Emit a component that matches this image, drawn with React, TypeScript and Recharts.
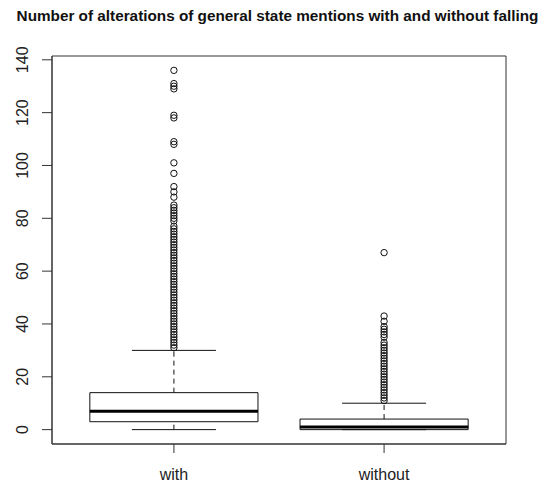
import React from "react";
import {
  ComposedChart,
  XAxis,
  YAxis,
  Scatter,
  ReferenceArea,
  ReferenceLine,
} from "recharts";

// Groups and their positions on the x scale
const groups = ["with", "without"];
const groupPos = [1, 2];

// Five-number summaries per group
const lowerWhisker = [0, 0];
const firstQuartile = [3, 0];
const medians = [7, 1];
const thirdQuartile = [14, 4];
const upperWhisker = [30, 10];

// Points beyond the whiskers
const outliersWith = [
  31, 32, 33, 34, 35, 36, 37, 38, 39, 40, 41, 42, 43, 44, 45, 46, 47, 48, 49, 50,
  51, 52, 53, 54, 55, 56, 57, 58, 59, 60, 61, 62, 63, 64, 65, 66, 67, 68, 69, 70,
  71, 72, 73, 74, 75, 76, 77, 79, 80, 81, 82, 83, 84, 85, 88, 90, 92, 97, 101,
  108, 109, 118, 119, 129, 130, 131, 136,
];
const outliersWithout = [
  11, 12, 13, 14, 15, 16, 17, 18, 19, 20, 21, 22, 23, 24, 25, 26, 27, 28, 29, 30,
  31, 32, 33, 35, 36, 37, 38, 39, 41, 43, 67,
];

const yTicks = [0, 20, 40, 60, 80, 100, 120, 140];

const outlierSets = [outliersWith, outliersWithout];

const WIDTH = 558;
const HEIGHT = 490;
const FONT = "'Liberation Sans', Arial, sans-serif";
const AXIS_COLOR = "#333";
const BOX_COLOR = "#111";

// Axis ranges padded by 4% on each side
const allValues = [...lowerWhisker, ...outliersWith, ...outliersWithout];
const yMin = Math.min(...allValues);
const yMax = Math.max(...allValues);
const yPad = (yMax - yMin) * 0.04;
const yDomain: [number, number] = [yMin - yPad, yMax + yPad];
const xPad = groupPos.length * 0.04;
const xDomain: [number, number] = [0.5 - xPad, groupPos.length + 0.5 + xPad];

const BOX_HALF = 0.4;
const CAP_HALF = 0.2;

const scatterData = outlierSets.map((set, i) =>
  set.map((v) => ({ x: groupPos[i], y: v }))
);

const OpenCircle = (props: any) => {
  const { cx, cy } = props;
  if (cx == null || cy == null) return null;
  return <circle cx={cx} cy={cy} r={3.2} fill="none" stroke={BOX_COLOR} strokeWidth={1} />;
};

const YTick = (props: any) => {
  const { x, y, payload } = props;
  const ax = x - 12;
  return (
    <text
      x={ax}
      y={y}
      transform={`rotate(-90 ${ax} ${y})`}
      textAnchor="middle"
      fontFamily={FONT}
      fontSize={16}
      fill="#222"
    >
      {payload.value}
    </text>
  );
};

const XTick = (props: any) => {
  const { x, y, payload } = props;
  const idx = groupPos.indexOf(payload.value);
  return (
    <text x={x} y={y + 25} textAnchor="middle" fontFamily={FONT} fontSize={16} fill="#222">
      {idx >= 0 ? groups[idx] : ""}
    </text>
  );
};

export default function App() {
  return (
    <div
      style={{
        position: "absolute",
        left: 0,
        top: 0,
        width: WIDTH,
        height: HEIGHT,
        background: "#fff",
      }}
    >
      <div
        style={{
          position: "absolute",
          left: 0,
          width: 555,
          top: 8,
          textAlign: "center",
          fontFamily: FONT,
          fontWeight: "bold",
          fontSize: 15.3,
          lineHeight: 1,
          color: "#111",
          whiteSpace: "nowrap",
        }}
      >
        Number of alterations of general state mentions with and without falling
      </div>
      <ComposedChart
        width={WIDTH}
        height={HEIGHT}
        margin={{ top: 56, right: 52, bottom: 0, left: 0 }}
      >
        <XAxis
          type="number"
          dataKey="x"
          domain={xDomain}
          ticks={groupPos}
          interval={0}
          allowDataOverflow
          height={46}
          tickSize={9}
          tickLine={{ stroke: AXIS_COLOR }}
          axisLine={{ stroke: AXIS_COLOR }}
          tick={XTick}
        />
        <YAxis
          type="number"
          dataKey="y"
          domain={yDomain}
          ticks={yTicks}
          interval={0}
          allowDataOverflow
          width={52}
          tickSize={10}
          tickLine={{ stroke: AXIS_COLOR }}
          axisLine={{ stroke: AXIS_COLOR }}
          tick={YTick}
        />

        {/* plot frame */}
        <ReferenceArea
          x1={xDomain[0]}
          x2={xDomain[1]}
          y1={yDomain[0]}
          y2={yDomain[1]}
          fill="none"
          fillOpacity={0}
          stroke={AXIS_COLOR}
          strokeWidth={1}
          ifOverflow="visible"
        />

        {groupPos.map((p, i) => (
          <ReferenceArea
            key={`box-${i}`}
            x1={p - BOX_HALF}
            x2={p + BOX_HALF}
            y1={firstQuartile[i]}
            y2={thirdQuartile[i]}
            fill="#fff"
            fillOpacity={1}
            stroke={BOX_COLOR}
            strokeWidth={1}
            ifOverflow="visible"
          />
        ))}

        {groupPos.map((p, i) => (
          <ReferenceLine
            key={`wu-${i}`}
            segment={[
              { x: p, y: thirdQuartile[i] },
              { x: p, y: upperWhisker[i] },
            ]}
            stroke={BOX_COLOR}
            strokeDasharray="5 4"
            ifOverflow="visible"
          />
        ))}
        {groupPos.map((p, i) => (
          <ReferenceLine
            key={`wl-${i}`}
            segment={[
              { x: p, y: lowerWhisker[i] },
              { x: p, y: firstQuartile[i] },
            ]}
            stroke={BOX_COLOR}
            strokeDasharray="5 4"
            ifOverflow="visible"
          />
        ))}
        {groupPos.map((p, i) => (
          <ReferenceLine
            key={`cu-${i}`}
            segment={[
              { x: p - CAP_HALF, y: upperWhisker[i] },
              { x: p + CAP_HALF, y: upperWhisker[i] },
            ]}
            stroke={BOX_COLOR}
            ifOverflow="visible"
          />
        ))}
        {groupPos.map((p, i) => (
          <ReferenceLine
            key={`cl-${i}`}
            segment={[
              { x: p - CAP_HALF, y: lowerWhisker[i] },
              { x: p + CAP_HALF, y: lowerWhisker[i] },
            ]}
            stroke={BOX_COLOR}
            ifOverflow="visible"
          />
        ))}
        {groupPos.map((p, i) => (
          <ReferenceLine
            key={`med-${i}`}
            segment={[
              { x: p - BOX_HALF, y: medians[i] },
              { x: p + BOX_HALF, y: medians[i] },
            ]}
            stroke="#000"
            strokeWidth={3}
            ifOverflow="visible"
          />
        ))}

        {scatterData.map((d, i) => (
          <Scatter
            key={`out-${i}`}
            data={d}
            dataKey="y"
            shape={OpenCircle}
            isAnimationActive={false}
          />
        ))}
      </ComposedChart>
    </div>
  );
}
